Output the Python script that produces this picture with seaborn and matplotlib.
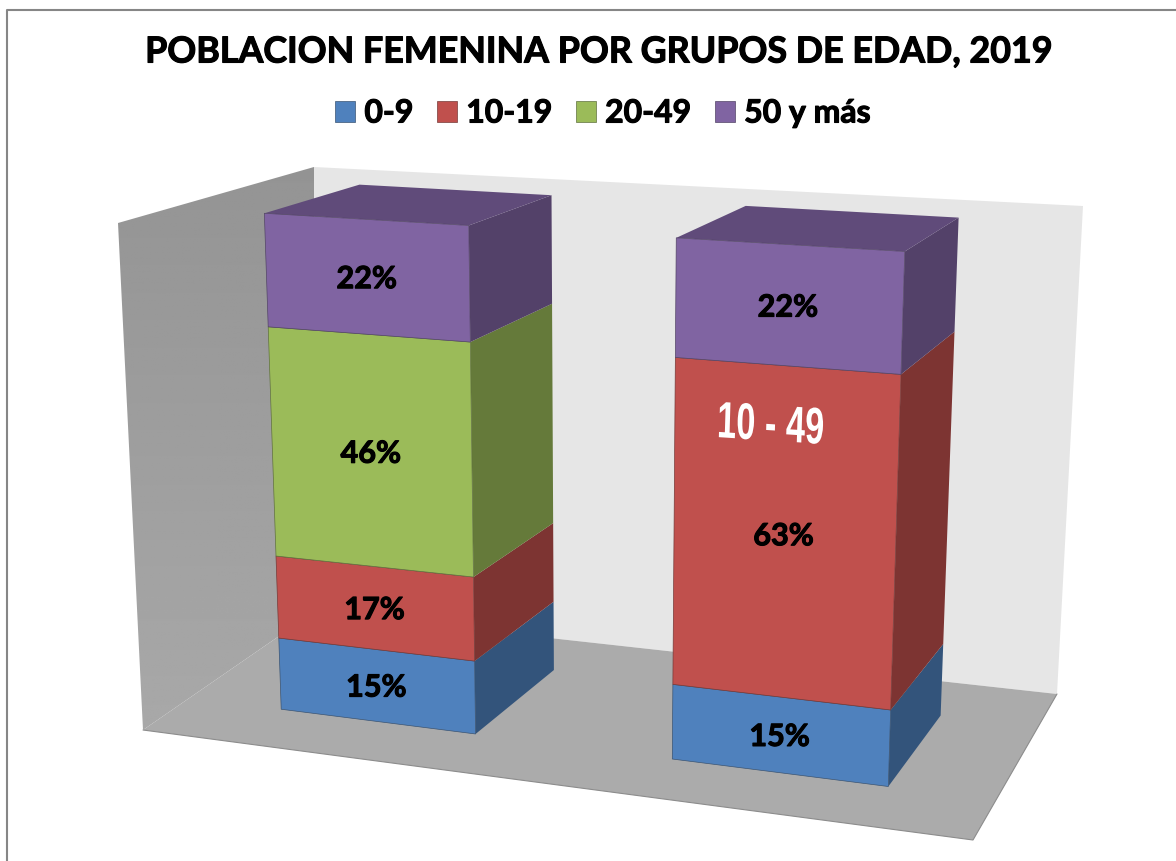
# Poblacion femenina por grupos de edad, columnas 3D apiladas
import numpy as np
import matplotlib
matplotlib.use('Agg')
import matplotlib.pyplot as plt
import seaborn as sns
from matplotlib.patches import Polygon
from matplotlib.patheffects import AbstractPathEffect, withStroke
from matplotlib.transforms import Affine2D, Transform

categories = ['Grupos quinquenales', 'Grupo 10 - 49']
grupos = ['0-9', '10-19', '20-49', '50 y más']
edad_0_9 = [15, 15]
edad_10_19 = [17, 63]
edad_20_49 = [46, 0]
edad_50_mas = [22, 22]
series = [edad_0_9, edad_10_19, edad_20_49, edad_50_mas]
colores = ['#4f81bd', '#c0504d', '#9bbb59', '#8064a2']
titulo = 'POBLACION FEMENINA POR GRUPOS DE EDAD, 2019'
nota = '10 - 49'

W, H = 1176, 862
BAR_WIDTH = 0.51

# camera calibration: (bar, side, percent, depth) -> reference pixel
anchors = [
    (0, -1, 100, 0, 264, 214), (0, 1, 100, 0, 469, 226), (0, -1, 100, 1, 358, 184), (0, 1, 100, 1, 552, 195),
    (0, -1, 78, 0, 268, 327), (0, 1, 78, 0, 471, 341), (0, 1, 78, 1, 553, 303),
    (0, -1, 32, 0, 276, 555), (0, 1, 32, 0, 475, 575),
    (0, -1, 15, 0, 278, 637), (0, 1, 15, 0, 476, 659), (0, 1, 15, 1, 555, 601),
    (0, -1, 0, 0, 280, 710), (0, 1, 0, 0, 476, 734), (0, 1, 0, 1, 555, 669),
    (1, -1, 100, 0, 676, 238), (1, 1, 100, 0, 906, 252), (1, -1, 100, 1, 744, 205), (1, 1, 100, 1, 959, 217),
    (1, -1, 78, 0, 674, 356), (1, 1, 78, 0, 902, 372), (1, 1, 78, 1, 955, 331),
    (1, -1, 15, 0, 672, 684), (1, 1, 15, 0, 890, 709), (1, 1, 15, 1, 942, 643),
    (1, -1, 0, 0, 672, 759), (1, 1, 0, 0, 888, 787), (1, 1, 0, 1, 940, 717),
]


def fit_camera(points):
    rows = []
    for bar, side, v, d, px, py in points:
        p = [bar + side * BAR_WIDTH / 2, v / 100, d, 1]
        u, w = px / 1000, py / 1000
        rows.append(p + [0, 0, 0, 0] + [-u * c for c in p])
        rows.append([0, 0, 0, 0] + p + [-w * c for c in p])
    return np.linalg.svd(np.array(rows))[2][-1].reshape(3, 4)


CAM = fit_camera(anchors)


def project(x, v, d):
    x, v, d = np.broadcast_arrays(np.asarray(x, float), np.asarray(v, float), np.asarray(d, float))
    p = CAM @ np.stack([x, v / 100, d, np.ones_like(x)])
    # the fit comes out a little high on the page
    return 1000 * p[0] / p[2], 1000 * p[1] / p[2] + 1.5


class FrontFace(Transform):
    # bars live in (category, percent) space, this puts them on the front plane
    input_dims = 2
    output_dims = 2
    is_separable = False
    has_inverse = False

    def transform_non_affine(self, values):
        xs, ys = project(values[:, 0], values[:, 1], 0)
        return np.column_stack([xs, ys])


class Squeeze(AbstractPathEffect):
    # narrow the glyphs around cx, there is no condensed bold font here
    def __init__(self, sx, cx):
        super().__init__()
        self.sx, self.cx = sx, cx

    def draw_path(self, renderer, gc, tpath, affine, rgbFace=None):
        squeeze = Affine2D().translate(-self.cx, 0).scale(self.sx, 1).translate(self.cx, 0)
        renderer.draw_path(gc, tpath, affine + squeeze, rgbFace)


sns.set_theme(style='white')
plt.rcParams['font.family'] = ['Lato', 'DejaVu Sans']
heavy = [withStroke(linewidth=0.8, foreground='black')]

fig = plt.figure(figsize=(W / 100, H / 100), dpi=100, facecolor='white')
ax = fig.add_axes([0, 0, 1, 1])

# chart frame
ax.plot([7, 7, W], [H, 10.5, 10.5], color='#868686', lw=1.5, zorder=0)

# walls and floor
back_wall = [(314, 168), (1083, 207), (1057, 695), (314, 613)]
left_wall = [(118, 224), (314, 168), (314, 613), (143, 731)]
floor = [(143, 731), (973, 841), (1057, 695), (314, 613)]
ax.add_patch(Polygon(back_wall, fc='#e6e6e6', ec='none', zorder=0.1))
grad = ax.imshow(np.linspace(0.58, 0.66, 256)[:, None], extent=(118, 314, 731, 168), cmap='gray',
                 vmin=0, vmax=1, aspect='auto', zorder=0.2)
grad.set_clip_path(Polygon(left_wall, transform=ax.transData))
ax.add_patch(Polygon(floor, fc='#ababab', ec='none', zorder=0.3))
ax.plot([143, 973, 1057], [731, 841, 695], color='#8c8c8c', lw=0.8, zorder=0.35)

# front faces
base = np.zeros(len(categories))
for nombre, valores, color in zip(grupos, series, colores):
    sns.barplot(x=categories, y=valores, bottom=base, color=color, saturation=1, width=BAR_WIDTH,
                errorbar=None, label=nombre, edgecolor=sns.dark_palette(color, 3)[1], linewidth=0.5, ax=ax)
    base = base + np.array(valores)

handles, labels = ax.get_legend_handles_labels()
legend = ax.legend(handles, labels, ncol=4, frameon=False, loc='center', bbox_to_anchor=(603 / W, 1 - 114 / H),
                   prop={'family': 'Lato', 'weight': 'bold', 'size': 23}, handlelength=0.63, handleheight=0.63,
                   handletextpad=0.28, columnspacing=0.74, labelcolor='black')
for t in legend.get_texts():
    t.set_path_effects(heavy)

# side and top faces come from the bars seaborn has drawn
front = FrontFace() + ax.transData
bars = [p for p in ax.patches if p.get_zorder() == 1 and hasattr(p, 'get_height')]
tops = {}
for bar in bars:
    if bar.get_height() == 0:
        bar.set_visible(False)
        continue
    x0 = bar.get_x()
    x1 = x0 + bar.get_width()
    b = bar.get_y()
    t = b + bar.get_height()
    color = np.array(bar.get_facecolor()[:3])
    xs, ys = project([x1, x1, x1, x1], [b, t, t, b], [0, 0, 1, 1])
    ax.add_patch(Polygon(np.column_stack([xs, ys]), fc=color * 0.65, ec='none', zorder=0.9))
    if x0 not in tops or t > tops[x0][2]:
        tops[x0] = (x0, x1, t, color)
    bar.set_transform(front)
    bar.set_clip_on(False)

for x0, x1, t, color in tops.values():
    xs, ys = project([x0, x1, x1, x0], [t, t, t, t], [0, 0, 1, 1])
    ax.add_patch(Polygon(np.column_stack([xs, ys]), fc=color * 0.75, ec='none', zorder=0.9))

# percent labels in the middle of each front face
for i in range(len(categories)):
    base_i = 0
    for valores in series:
        v = valores[i]
        if v > 0:
            px, py = project(i, base_i + v / 2, 0)
            ax.text(px, py + 2, f'{v}%', ha='center', va='center', fontsize=22, fontweight='bold',
                    color='black', zorder=3, path_effects=heavy)
        base_i += v

ax.text(770.5, 428, nota, ha='center', va='center', fontsize=37, fontweight='bold', color='white', rotation=-2.5,
        family=['Liberation Sans', 'DejaVu Sans'], zorder=3, path_effects=[Squeeze(0.67, 770.5)])

ax.text(599, 53, titulo, ha='center', va='center', fontsize=25.8, fontweight='bold', color='black', zorder=3,
        path_effects=heavy)

ax.set_xlim(0, W)
ax.set_ylim(H, 0)
ax.set_axis_off()

fig.savefig('out.png', dpi=100)
